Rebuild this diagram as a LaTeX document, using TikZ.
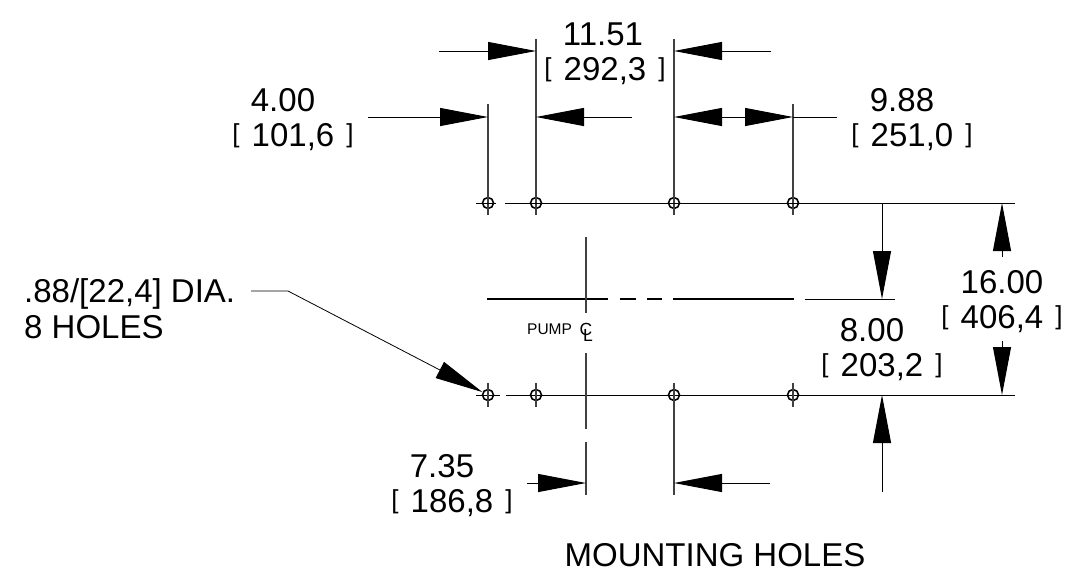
\documentclass[tikz,border=0pt]{standalone}
\usepackage{fontspec}
\setmainfont{Liberation Sans}
\usetikzlibrary{arrows.meta}
\tikzset{
  x=1pt,y=-1pt,
  dimtip/.tip={Triangle[length=48pt,width=18pt]},
  thin line/.style={line width=1pt,black},
  extline/.style={line width=1.2pt,black!75},
  heavy/.style={line width=1.8pt,black},
  dimarrow/.style={line width=1pt,black,-{dimtip}},
  dimarrowboth/.style={line width=1pt,black,{dimtip}-{dimtip}},
  hole/.style={circle,draw=black,line width=1.6pt,minimum size=11pt,inner sep=0pt,fill=none},
  label/.style={font=\fontsize{33}{35}\selectfont,align=center,inner sep=0pt,black},
  leftlabel/.style={font=\fontsize{33}{36}\selectfont,align=left,inner sep=0pt,black,anchor=west},
  small/.style={font=\fontsize{15.5}{15.5}\selectfont,inner sep=0pt,black},
  cl/.style={font=\fontsize{17.5}{17.5}\selectfont,inner sep=0pt,black}
}
\newcommand{\brk}[1]{\raisebox{4.5pt}{\fontsize{26}{26}\selectfont[}\hspace{12pt}#1\hspace{12pt}\raisebox{4.5pt}{\fontsize{26}{26}\selectfont]}}
\begin{document}
\begin{tikzpicture}
\useasboundingbox (0,0) rectangle (1079,582);
% holes
\foreach \n/\X in {a/488,b/536,c/674,d/793}{
  \node[hole] (t\n) at (\X,203) {};
  \node[hole] (b\n) at (\X,395) {};
}
% extension lines top
\coordinate (ta1) at (488,104); \coordinate (ta2) at (488,215);
\coordinate (tb1) at (536,39);  \coordinate (tb2) at (536,215);
\coordinate (tc1) at (674,39);  \coordinate (tc2) at (674,215);
\coordinate (td1) at (793,104); \coordinate (td2) at (793,215);
\draw[extline] (ta1)--(ta2); \draw[extline] (tb1)--(tb2);
\draw[extline] (tc1)--(tc2); \draw[extline] (td1)--(td2);
% horizontal top
\coordinate (tl1) at (476,203); \coordinate (tl2) at (496,203);
\coordinate (tl3) at (505,203); \coordinate (tl4) at (1015,203);
\draw[thin line] (tl1)--(tl2); \draw[thin line] (tl3)--(tl4);
% horizontal bottom
\coordinate (bl1) at (476,395); \coordinate (bl2) at (500,395);
\coordinate (bl3) at (506,395); \coordinate (bl4) at (1015,395);
\draw[thin line] (bl1)--(bl2); \draw[thin line] (bl3)--(bl4);
% bottom stubs
\foreach \n/\X in {a/488,b/536,d/793}{
  \coordinate (s\n1) at (\X,383); \coordinate (s\n2) at (\X,407);
  \draw[extline] (s\n1)--(s\n2);
}
\coordinate (sc1) at (674,383); \coordinate (sc2) at (674,495);
\draw[extline] (sc1)--(sc2);
% centre lines
\coordinate (h1) at (487,299); \coordinate (h2) at (608,299);
\coordinate (h3) at (620,299); \coordinate (h4) at (636,299);
\coordinate (h5) at (647,299); \coordinate (h6) at (662,299);
\coordinate (h7) at (673,299); \coordinate (h8) at (794,299);
\coordinate (h9) at (805,299); \coordinate (h10) at (895,299);
\draw[heavy] (h1)--(h2); \draw[heavy] (h3)--(h4); \draw[heavy] (h5)--(h6); \draw[heavy] (h7)--(h8);
\draw[thin line] (h9)--(h10);
\coordinate (v1) at (586,237); \coordinate (v2) at (586,313);
\coordinate (v3) at (586,353); \coordinate (v4) at (586,429);
\coordinate (v5) at (586,442); \coordinate (v6) at (586,495);
\draw[extline] (v1)--(v2); \draw[extline] (v3)--(v4); \draw[extline] (v5)--(v6);
% dimension arrows
\coordinate (d1s) at (439,51);  \coordinate (d1e) at (536,51);
\coordinate (d2s) at (771,51);  \coordinate (d2e) at (674,51);
\coordinate (d3s) at (368,117); \coordinate (d3e) at (488,117);
\coordinate (d4s) at (632,117); \coordinate (d4e) at (536,117);
\coordinate (d5a) at (674,117); \coordinate (d5b) at (793,117);
\coordinate (d6s) at (837,117);
\coordinate (d7s) at (882,203); \coordinate (d7e) at (882,299);
\coordinate (d8s) at (882,492); \coordinate (d8e) at (882,395);
\coordinate (d9s) at (1002,257); \coordinate (d9e) at (1002,203);
\coordinate (d10s) at (1002,341); \coordinate (d10e) at (1002,395);
\coordinate (d11s) at (527,483); \coordinate (d11e) at (586,483);
\coordinate (d12s) at (770,483); \coordinate (d12e) at (674,483);
\draw[dimarrow] (d1s)--(d1e); \draw[dimarrow] (d2s)--(d2e);
\draw[dimarrow] (d3s)--(d3e); \draw[dimarrow] (d4s)--(d4e);
\draw[dimarrowboth] (d5a)--(d5b); \draw[thin line] (d5b)--(d6s);
\draw[dimarrow] (d7s)--(d7e); \draw[dimarrow] (d8s)--(d8e);
\draw[dimarrow] (d9s)--(d9e); \draw[dimarrow] (d10s)--(d10e);
\draw[dimarrow] (d11s)--(d11e); \draw[dimarrow] (d12s)--(d12e);
% leader
\coordinate (l1) at (251,291); \coordinate (l2) at (288,291);
\draw[dimarrow,line width=.8pt] (l1)--(l2)--(ba);
% labels
\node[label] (t1) at (605,54) {11.51\kern4pt\\\brk{292,3}};
\node[label] (t2) at (293,120) {4.00\kern20pt\\\brk{101,6}};
\node[label] (t3) at (912,120) {9.88\kern20pt\\\brk{251,0}};
\node[label] (t4) at (1002,302) {16.00\\\brk{406,4}};
\node[label] (t5) at (882,350) {8.00\kern20pt\\\brk{203,2}};
\node[label] (t6) at (452,486) {7.35\kern20pt\\\brk{186,8}};
\node[leftlabel] (t7) at (24,309) {.88/[22,4] DIA.\\8 HOLES};
\node[label] (t8) at (715,555) {MOUNTING HOLES};
\node[small,anchor=west] (t9) at (527,329) {PUMP};
\node[cl] (t10) at (586,329.5) {C};
\node[cl] (t11) at (588,335.5) {L};
\end{tikzpicture}
\end{document}
